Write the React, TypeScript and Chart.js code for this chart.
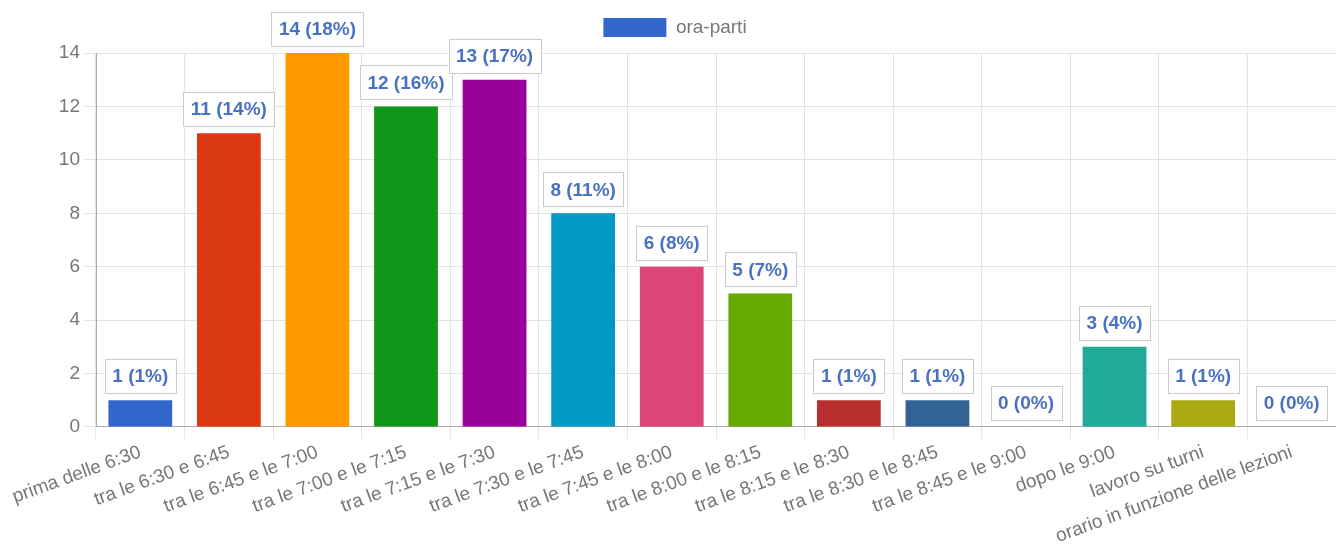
import React, { useEffect, useRef } from "react";
import { Chart, registerables } from "chart.js";

Chart.register(...registerables);

const categories = [
  "prima delle 6:30",
  "tra le 6:30 e 6:45",
  "tra le 6:45 e le 7:00",
  "tra le 7:00 e le 7:15",
  "tra le 7:15 e le 7:30",
  "tra le 7:30 e le 7:45",
  "tra le 7:45 e le 8:00",
  "tra le 8:00 e le 8:15",
  "tra le 8:15 e le 8:30",
  "tra le 8:30 e le 8:45",
  "tra le 8:45 e le 9:00",
  "dopo le 9:00",
  "lavoro su turni",
  "orario in funzione delle lezioni",
];

const values = [1, 11, 14, 12, 13, 8, 6, 5, 1, 1, 0, 3, 1, 0];

const barColors = [
  "#3366cc",
  "#dc3912",
  "#ff9900",
  "#109618",
  "#990099",
  "#0099c6",
  "#dd4477",
  "#66aa00",
  "#b82e2e",
  "#316395",
  "#994499",
  "#22aa99",
  "#aaaa11",
  "#6633cc",
];

const seriesName = "ora-parti";
const yMax = 14;
const yStep = 2;

const FONT = "'Liberation Sans', Arial, sans-serif";

const valueLabelPlugin = {
  id: "valueLabels",
  afterDatasetsDraw(chart: any) {
    const ctx = chart.ctx;
    const meta = chart.getDatasetMeta(0);
    const data = chart.data.datasets[0].data as number[];
    const total = data.reduce((a: number, b: number) => a + b, 0);
    ctx.save();
    ctx.font = `bold 19px ${FONT}`;
    ctx.textAlign = "center";
    ctx.textBaseline = "middle";
    meta.data.forEach((el: any, i: number) => {
      const v = data[i];
      const pct = total ? Math.round((v / total) * 100) : 0;
      const text = `${v} (${pct}%)`;
      const w = ctx.measureText(text).width + 15;
      const h = 34;
      const bottom = el.y - 7;
      const top = bottom - h;
      const left = el.x - w / 2;
      ctx.fillStyle = "#ffffff";
      ctx.fillRect(left, top, w, h);
      ctx.strokeStyle = "#cccccc";
      ctx.lineWidth = 1;
      ctx.strokeRect(Math.round(left) + 0.5, Math.round(top) + 0.5, Math.round(w), Math.round(h));
      ctx.fillStyle = "#4a72c4";
      ctx.fillText(text, el.x, top + h / 2 + 1);
    });
    ctx.restore();
  },
};

const legendSpacingPlugin = {
  id: "legendSpacing",
  beforeInit(chart: any) {
    const legend = chart.legend;
    if (!legend) return;
    const origFit = legend.fit;
    legend.fit = function () {
      origFit.call(this);
      this.height += 6;
    };
  },
  afterLayout(chart: any) {
    if (chart.legend) chart.legend.left += 14;
  },
};

export default function App() {
  const ref = useRef<HTMLCanvasElement | null>(null);

  useEffect(() => {
    const prevMargin = document.body.style.margin;
    document.body.style.margin = "0";
    if (!ref.current) return;
    const chart = new Chart(ref.current, {
      type: "bar",
      data: {
        labels: categories,
        datasets: [
          {
            label: seriesName,
            data: values,
            backgroundColor: barColors,
            borderWidth: 0,
            barPercentage: 0.72,
            categoryPercentage: 1,
          },
        ],
      },
      options: {
        responsive: false,
        animation: false,
        layout: { padding: { left: 0, right: 0, top: 8, bottom: 3 } },
        plugins: {
          tooltip: { enabled: false },
          legend: {
            display: true,
            position: "top",
            labels: {
              boxWidth: 63,
              boxHeight: 19,
              padding: 10,
              color: "#777777",
              font: { size: 19, family: FONT },
              generateLabels: () => [
                {
                  text: seriesName,
                  fillStyle: "#3366cc",
                  strokeStyle: "#3366cc",
                  fontColor: "#777777",
                  lineWidth: 0,
                  hidden: false,
                  datasetIndex: 0,
                },
              ],
            },
          },
        },
        scales: {
          x: {
            grid: {
              color: "#e3e3e3",
              tickLength: 12,
              offset: true,
            },
            border: { color: "#aaaaaa" },
            ticks: {
              autoSkip: false,
              minRotation: 20,
              maxRotation: 20,
              color: "#777777",
              font: { size: 19, family: FONT },
              padding: 2,
            },
          },
          y: {
            min: 0,
            max: yMax,
            afterFit(scale: any) {
              scale.width = 96;
            },
            grid: { color: "#e3e3e3", tickLength: 12 },
            border: { color: "#aaaaaa" },
            ticks: {
              stepSize: yStep,
              color: "#777777",
              font: { size: 19, family: FONT },
              padding: 4,
            },
          },
        },
      },
      plugins: [valueLabelPlugin, legendSpacingPlugin],
    });
    return () => {
      chart.destroy();
      document.body.style.margin = prevMargin;
    };
  }, []);

  return (
    <div style={{ position: "absolute", left: 0, top: 0, width: 1336, height: 553 }}>
      <canvas ref={ref} width={1336} height={553} />
    </div>
  );
}
